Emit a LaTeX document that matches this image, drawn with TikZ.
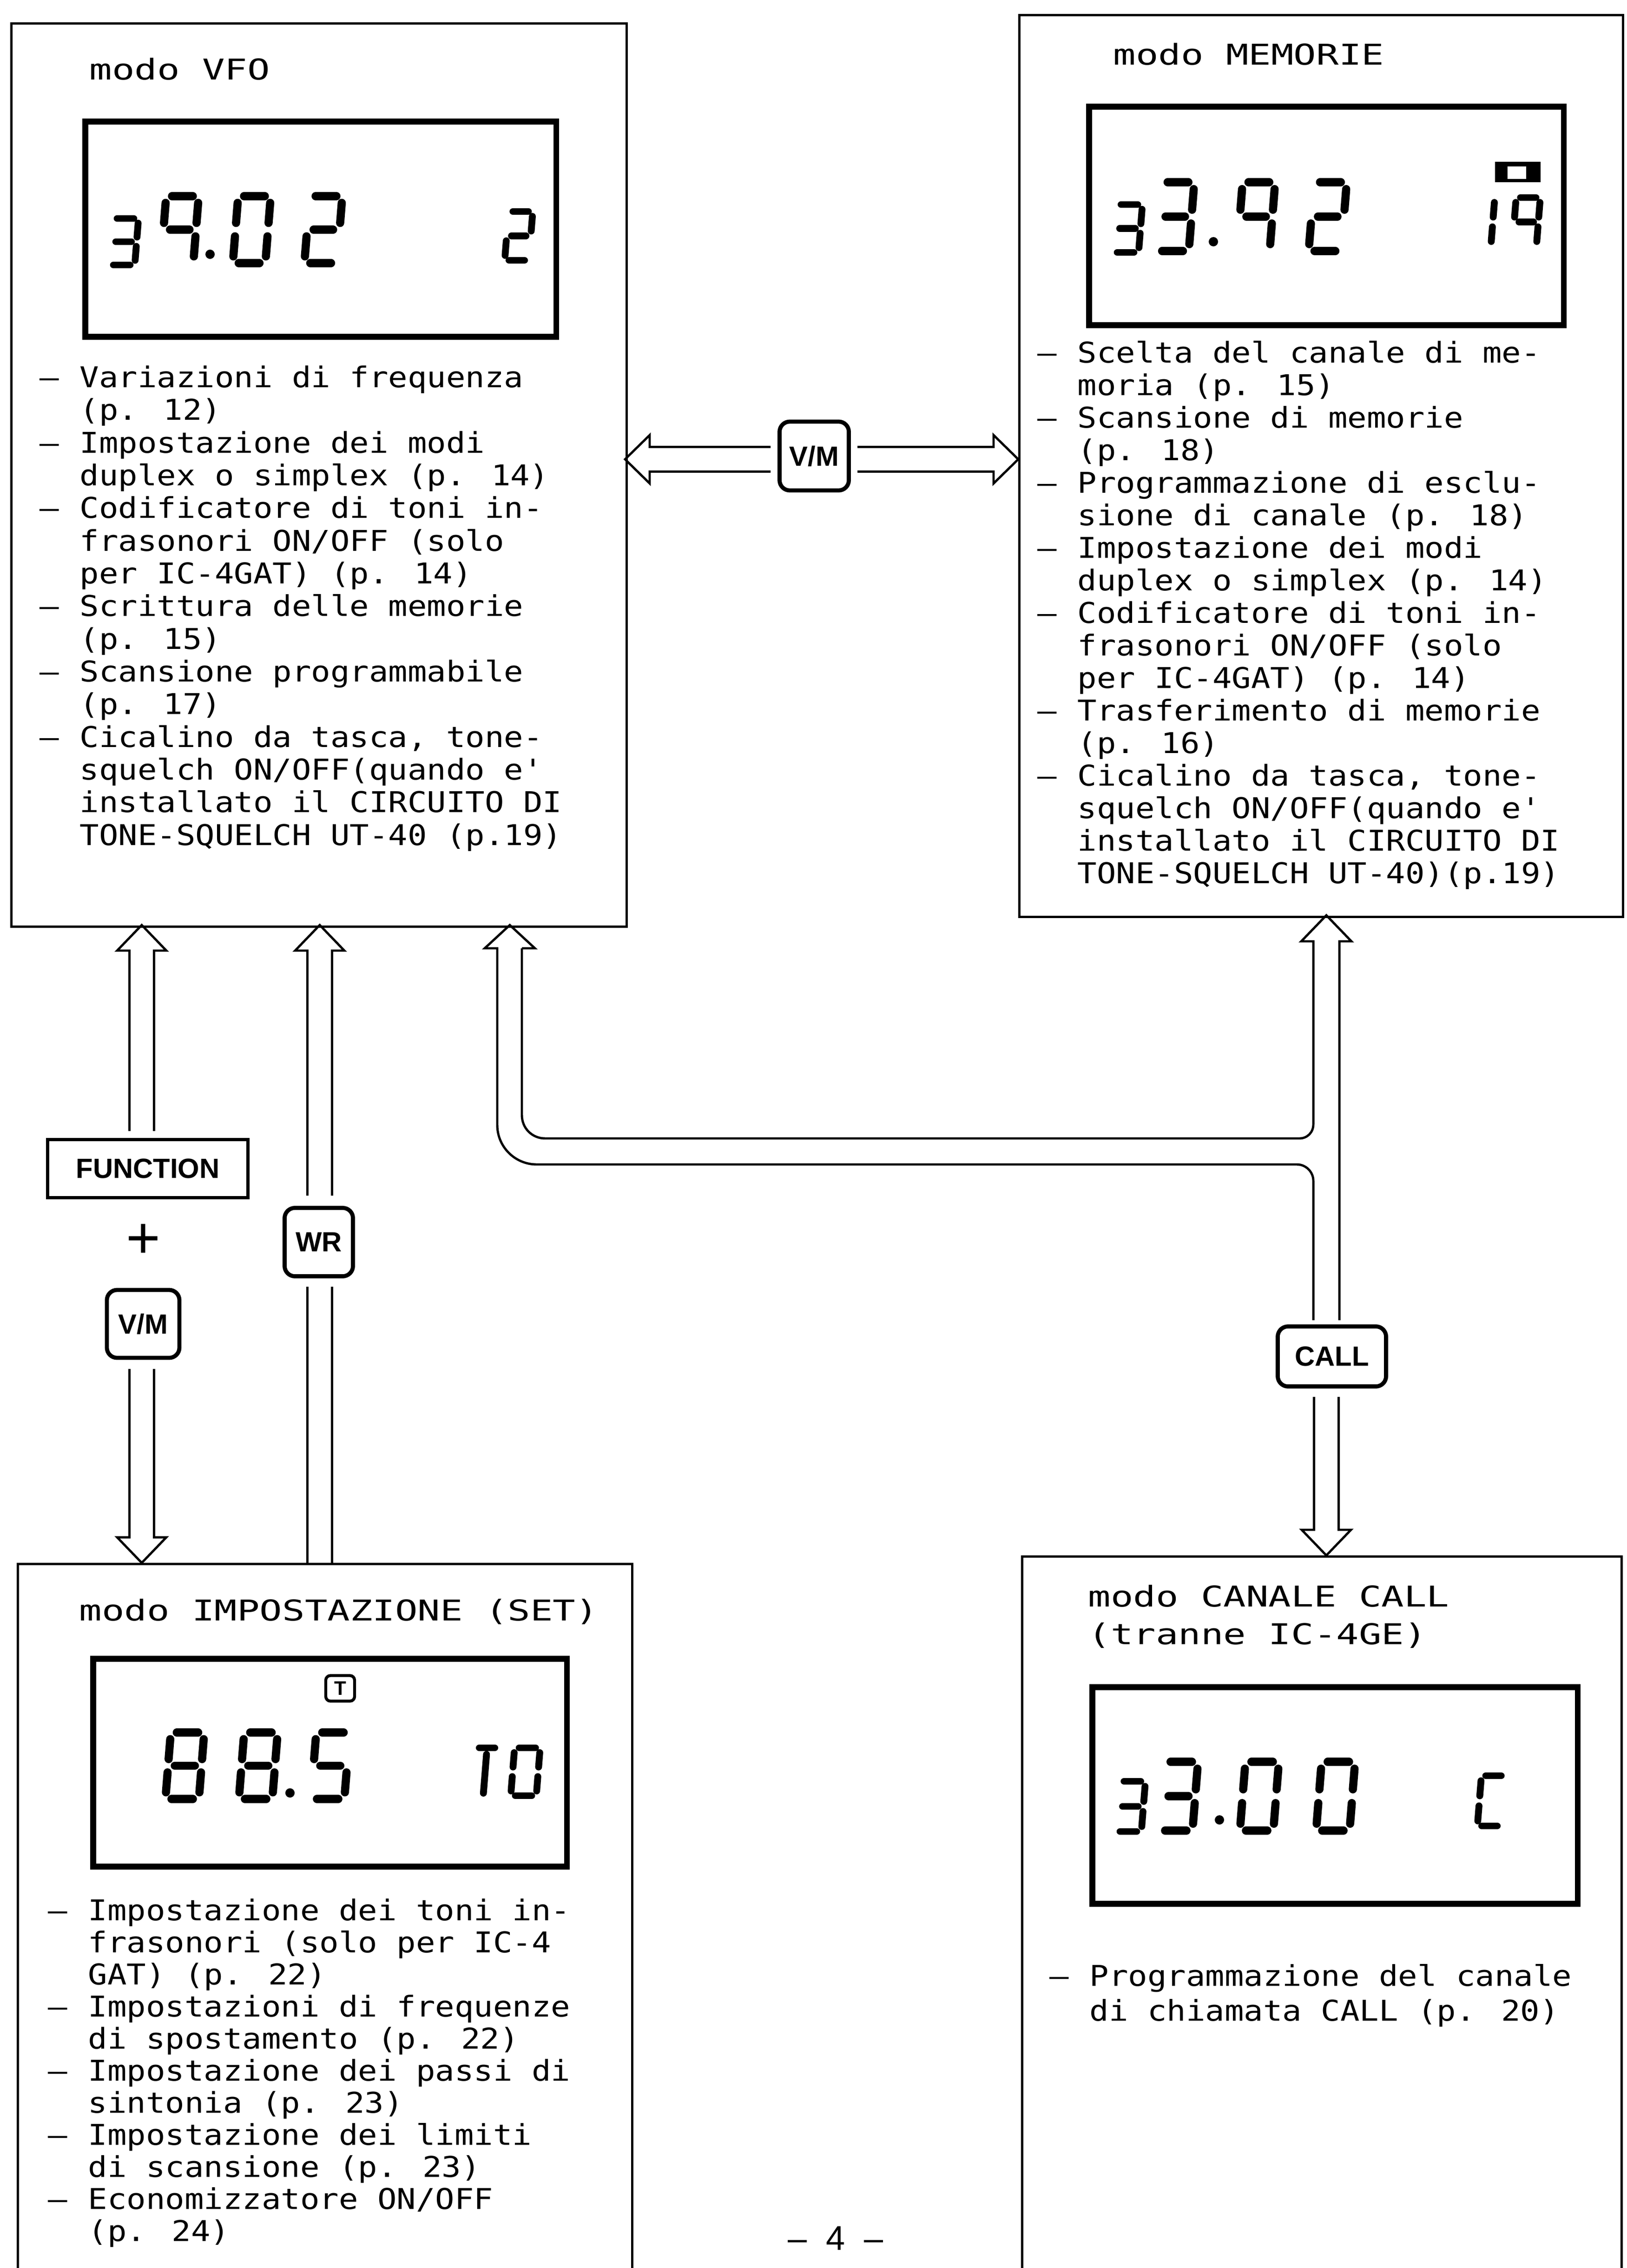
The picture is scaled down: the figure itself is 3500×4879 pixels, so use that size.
\documentclass[tikz,border=0pt]{standalone}
\usepackage{fontspec}
\newfontfamily\dotfont[FakeStretch=1.12]{DejaVu Sans Mono}
\newfontfamily\ttlfont[FakeStretch=1.31]{DejaVu Sans Mono}
\newfontfamily\keyfont{Liberation Sans}
\usetikzlibrary{calc}

\newcommand\itemdash{\makebox[24.5pt][l]{–}}
\newcommand\itemcont{\hspace*{24.5pt}}

% seven-segment pieces (unit cell: width 1, height 2, y grows downwards)
\newcommand\lcdA{\draw[seg] (0.18,-2) -- (0.82,-2);}
\newcommand\lcdB{\draw[seg] (1,-1.8) -- (1,-1.2);}
\newcommand\lcdC{\draw[seg] (1,-0.8) -- (1,-0.2);}
\newcommand\lcdD{\draw[seg] (0.18,0) -- (0.82,0);}
\newcommand\lcdE{\draw[seg] (0,-0.8) -- (0,-0.2);}
\newcommand\lcdF{\draw[seg] (0,-1.8) -- (0,-1.2);}
\newcommand\lcdG{\draw[seg] (0.2,-1) -- (0.8,-1);}
\newcommand\lcdT{\draw[seg] (0.5,-1.72) -- (0.5,-0.05);}
\newcommand\lcddigit[6]{%
  \begin{scope}[shift={(#1,#2)},xslant=0.08,xscale=#3,yscale=#4/2,
                seg/.style={line width=#5pt,line cap=round}]
    \foreach \s in {#6}{\csname lcd\s\endcsname}
  \end{scope}}

% hollow arrow halves: #1 centre, #2 tip, #3 open end
\newcommand\hollowup[3]{\draw[hollow] ({#1-26.5},#3) -- ({#1-26.5},{#2+55}) -- ({#1-53},{#2+55}) -- (#1,#2) -- ({#1+53},{#2+55}) -- ({#1+26.5},{#2+55}) -- ({#1+26.5},#3);}
\newcommand\hollowdown[3]{\draw[hollow] ({#1-26.5},#3) -- ({#1-26.5},{#2-55}) -- ({#1-53},{#2-55}) -- (#1,#2) -- ({#1+53},{#2-55}) -- ({#1+26.5},{#2-55}) -- ({#1+26.5},#3);}
\newcommand\hollowleft[3]{\draw[hollow] (#3,{#2-26.5}) -- ({#1+53},{#2-26.5}) -- ({#1+53},{#2-52}) -- (#1,#2) -- ({#1+53},{#2+52}) -- ({#1+53},{#2+26.5}) -- (#3,{#2+26.5});}
\newcommand\hollowright[3]{\draw[hollow] (#3,{#2-26.5}) -- ({#1-53},{#2-26.5}) -- ({#1-53},{#2-52}) -- (#1,#2) -- ({#1-53},{#2+52}) -- ({#1-53},{#2+26.5}) -- (#3,{#2+26.5});}

\tikzset{
  modebox/.style={draw, line width=1.4pt, inner sep=0pt, anchor=north west},
  lcdframe/.style={draw, line width=3.6pt, inner sep=0pt, anchor=north west},
  titletext/.style={font=\ttlfont\fontsize{17.5}{23}\selectfont, align=left, inner sep=0pt, anchor=base west},
  listtext/.style={font=\dotfont\fontsize{17.5}{#1}\selectfont, align=left, inner sep=0pt, anchor=base west},
  roundkey/.style={draw, line width=2.5pt, rounded corners=0.22cm, inner sep=0pt,
                   font=\keyfont\bfseries\fontsize{17}{17}\selectfont},
  squarekey/.style={draw, line width=2pt, inner sep=0pt,
                   font=\keyfont\bfseries\fontsize{17}{17}\selectfont},
  hollow/.style={line width=1.4pt, line join=miter, line cap=butt},
}

\begin{document}
\begin{tikzpicture}[x=0.01cm, y=-0.01cm]
\useasboundingbox (0,0) rectangle (3500,4879);
\clip (0,0) rectangle (3500,4879);

% ---------------- mode boxes ----------------
\node[modebox, minimum width=13.23cm, minimum height=19.42cm] (vfo) at (22,48) {};
\node[modebox, minimum width=12.98cm, minimum height=19.39cm] (mem) at (2191,30) {};
\node[modebox, minimum width=13.21cm, minimum height=16cm] (set) at (36,3362) {};
\node[modebox, minimum width=12.89cm, minimum height=16cm] (call) at (2197,3346) {};

% ---------------- titles (anchor = baseline of last line) ----------------
\node[titletext] (vfotitle) at (192,172) {modo VFO};
\node[titletext] (memtitle) at (2395,140) {modo MEMORIE};
\node[titletext] (settitle) at (170,3486) {modo IMPOSTAZIONE (SET)};
\node[titletext] (calltitle) at (2341,3537) {modo CANALE CALL\\(tranne IC-4GE)};

% ---------------- LCD frames ----------------
\node[lcdframe, minimum width=10.13cm, minimum height=4.63cm] (vfolcd) at (177,255) {};
\node[lcdframe, minimum width=10.21cm, minimum height=4.70cm] (memlcd) at (2337,223) {};
\node[lcdframe, minimum width=10.19cm, minimum height=4.47cm] (setlcd) at (194,3562) {};
\node[lcdframe, minimum width=10.44cm, minimum height=4.66cm] (calllcd) at (2344,3623) {};

% ---------------- LCD readouts ----------------
% VFO: 39.02  2
\lcddigit{234}{570}{56}{100}{4.2}{A,B,C,D,G}
\lcddigit{346}{566}{70}{144}{5}{A,B,C,F,G}
\fill (452,547) circle (0.1cm);
\lcddigit{501}{566}{70}{144}{5}{A,B,C,D,E,F}
\lcddigit{655}{566}{70}{144}{5}{A,B,D,E,G}
\lcddigit{1086}{560}{52}{105}{4.2}{A,B,D,E,G}
% MEMORIE: 33.92  19
\lcddigit{2394}{543}{56}{103}{4.2}{A,B,C,D,G}
\lcddigit{2488}{540}{70}{148}{5}{A,B,C,D,G}
\fill (2611,520) circle (0.1cm);
\lcddigit{2662}{540}{70}{148}{5}{A,B,C,F,G}
\lcddigit{2816}{540}{70}{148}{5}{A,B,D,E,G}
\fill (3217,348) rectangle (3315,392);
\fill[white] (3244,358) rectangle (3284,385);
\lcddigit{3208}{530}{52}{105}{4.2}{E,F}
\lcddigit{3254}{530}{52}{105}{4.2}{A,B,C,F,G}
% SET: 88.5  T0
\node[draw, line width=1.8pt, rounded corners=0.1cm, minimum width=0.62cm, minimum height=0.55cm,
      inner sep=0pt, font=\keyfont\bfseries\fontsize{12}{12}\selectfont] (tind) at (732,3632) {T};
\lcddigit{356}{3870}{72}{143}{5}{A,B,C,D,E,F,G}
\lcddigit{514}{3870}{72}{143}{5}{A,B,C,D,E,F,G}
\fill (624,3857) circle (0.1cm);
\lcddigit{669}{3870}{72}{143}{5}{A,C,D,F,G}
\lcddigit{1014}{3860}{52}{100}{4.2}{A,T}
\lcddigit{1099}{3863}{55}{103}{4.2}{A,B,C,D,E,F}
% CALL: 33.00  C
\lcddigit{2400}{3940}{56}{108}{4.2}{A,B,C,D,G}
\lcddigit{2494}{3938}{72}{148}{5}{A,B,C,D,G}
\fill (2624,3915) circle (0.1cm);
\lcddigit{2668}{3938}{72}{148}{5}{A,B,C,D,E,F}
\lcddigit{2832}{3938}{72}{148}{5}{A,B,C,D,E,F}
\lcddigit{3179}{3928}{52}{108}{4.2}{A,D,E,F}

% ---------------- function lists (anchor = baseline of last line) ----------------
\node[listtext=20pt] (vfolist) at (85,1818) {%
\itemdash Variazioni di frequenza\\
\itemcont (p. 12)\\
\itemdash Impostazione dei modi\\
\itemcont duplex o simplex (p. 14)\\
\itemdash Codificatore di toni in-\\
\itemcont frasonori ON/OFF (solo\\
\itemcont per IC-4GAT) (p. 14)\\
\itemdash Scrittura delle memorie\\
\itemcont (p. 15)\\
\itemdash Scansione programmabile\\
\itemcont (p. 17)\\
\itemdash Cicalino da tasca, tone-\\
\itemcont squelch ON/OFF(quando e'\\
\itemcont installato il CIRCUITO DI\\
\itemcont TONE-SQUELCH UT-40 (p.19)};

\node[listtext=19.9pt] (memlist) at (2232,1900) {%
\itemdash Scelta del canale di me-\\
\itemcont moria (p. 15)\\
\itemdash Scansione di memorie\\
\itemcont (p. 18)\\
\itemdash Programmazione di esclu-\\
\itemcont sione di canale (p. 18)\\
\itemdash Impostazione dei modi\\
\itemcont duplex o simplex (p. 14)\\
\itemdash Codificatore di toni in-\\
\itemcont frasonori ON/OFF (solo\\
\itemcont per IC-4GAT) (p. 14)\\
\itemdash Trasferimento di memorie\\
\itemcont (p. 16)\\
\itemdash Cicalino da tasca, tone-\\
\itemcont squelch ON/OFF(quando e'\\
\itemcont installato il CIRCUITO DI\\
\itemcont TONE-SQUELCH UT-40)(p.19)};

\node[listtext=19.6pt] (setlist) at (103,4821) {%
\itemdash Impostazione dei toni in-\\
\itemcont frasonori (solo per IC-4\\
\itemcont GAT) (p. 22)\\
\itemdash Impostazioni di frequenze\\
\itemcont di spostamento (p. 22)\\
\itemdash Impostazione dei passi di\\
\itemcont sintonia (p. 23)\\
\itemdash Impostazione dei limiti\\
\itemcont di scansione (p. 23)\\
\itemdash Economizzatore ON/OFF\\
\itemcont (p. 24)};

\node[listtext=21.3pt] (calllist) at (2258,4347) {%
\itemdash Programmazione del canale\\
\itemcont di chiamata CALL (p. 20)};

% ---------------- keys ----------------
\node[roundkey, minimum width=1.49cm, minimum height=1.48cm] (vmkey) at (1752,981) {V/M};
\node[squarekey, minimum width=4.31cm, minimum height=1.25cm] (fnkey) at (318,2514) {FUNCTION};
\node[inner sep=0pt, font=\keyfont\fontsize{36}{36}\selectfont] (plus) at (308,2670) {+};
\node[roundkey, minimum width=1.56cm, minimum height=1.46cm] (vmkeyb) at (308,2848) {V/M};
\node[roundkey, minimum width=1.47cm, minimum height=1.47cm] (wrkey) at (686,2672) {WR};
\node[roundkey, minimum width=2.33cm, minimum height=1.29cm] (callkey) at (2866,2918) {CALL};

% ---------------- hollow arrows ----------------
% VFO <-> MEMORIE (V/M)
\hollowleft{1345}{988}{1658}
\hollowright{2191}{988}{1845}
% VFO <-> SET (FUNCTION + V/M)
\hollowup{305}{1990}{2433}
\hollowdown{305}{3362}{2945}
% SET -> VFO (WR)
\hollowup{688}{1990}{2572}
\draw[hollow] (661.5,2768) -- (661.5,3362);
\draw[hollow] (714.5,2768) -- (714.5,3362);
% T-junction: VFO / MEMORIE <-> CALL
\draw[hollow] (1123,2040) -- (1151,2040) -- (1097,1990) -- (1043,2040) -- (1070,2040)
  -- (1070,2420) .. controls (1070,2467) and (1108,2505) .. (1155,2505)
  -- (2791,2505) .. controls (2810,2505) and (2826,2521) .. (2826,2540) -- (2826,2840);
\draw[hollow] (1123,2040) -- (1123,2399) .. controls (1123,2427) and (1145,2449) .. (1173,2449)
  -- (2796,2449) .. controls (2813,2449) and (2826,2436) .. (2826,2419)
  -- (2826,2025) -- (2800,2025) -- (2854,1969) -- (2908,2025) -- (2882,2025) -- (2882,2840);
\hollowdown{2854}{3346}{3005}

% ---------------- page number ----------------
\node[inner sep=0pt, anchor=base, font=\keyfont\fontsize{21}{21}\selectfont] (pagenum) at (1798,4840) {–\hspace{0.55em}4\hspace{0.55em}–};
\end{tikzpicture}
\end{document}
